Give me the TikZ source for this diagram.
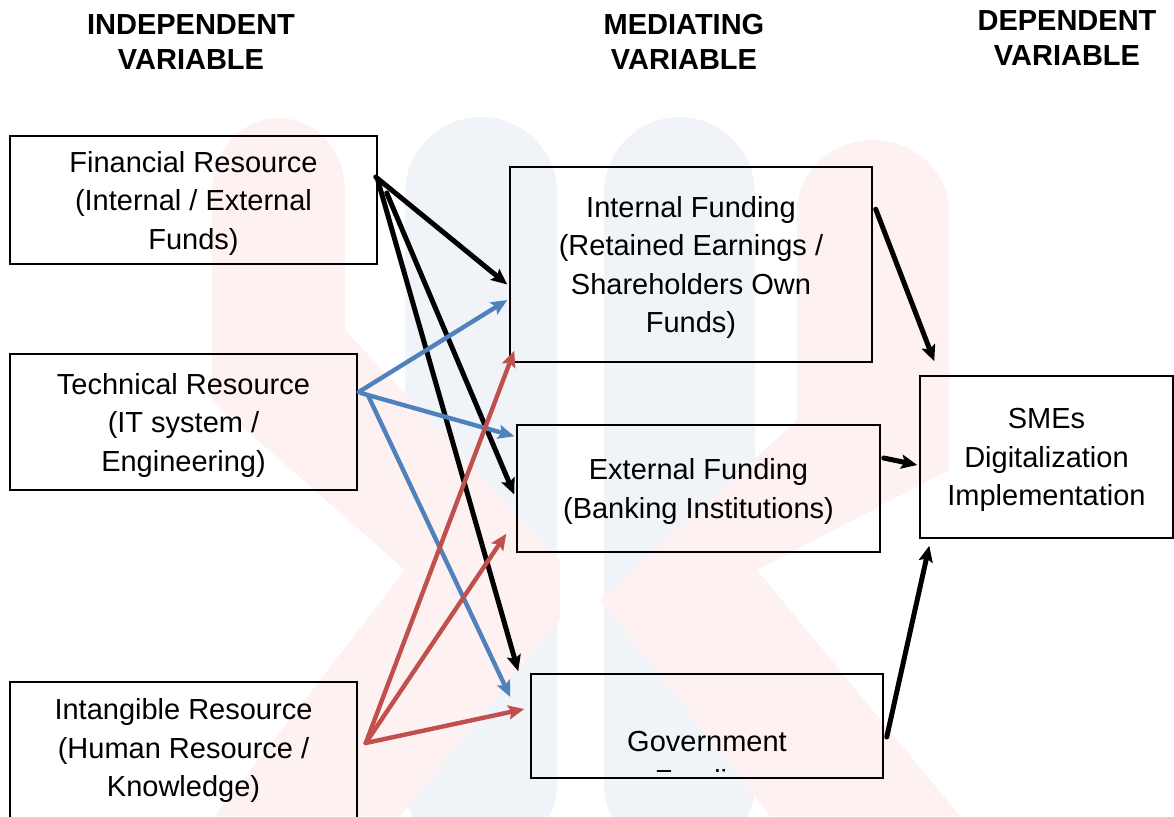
\documentclass[tikz,border=0pt]{standalone}
\usepackage{fontspec}
\setmainfont{Liberation Sans}
\usetikzlibrary{arrows.meta}

\definecolor{linkblue}{HTML}{4F81BD}
\definecolor{linkred}{HTML}{C0504D}
\definecolor{washpink}{HTML}{FDF1F1}
\definecolor{washblue}{HTML}{F0F4F8}

\tikzset{
  varbox/.style={draw, line width=0.75pt, inner sep=0pt, align=center, text depth=0pt,
    font=\fontsize{14.5}{19.25}\selectfont},
  heading/.style={align=center, font=\bfseries\fontsize{14.5}{17.5}\selectfont},
  link/.style={line width=2.2pt, line cap=round,
    -{Stealth[length=8pt,width=7pt,inset=1.5pt]}},
}

\begin{document}
\begin{tikzpicture}[x=0.5pt, y=-0.5pt]
        \useasboundingbox (0,0) rectangle (1174,816);
        % Faint backdrop: two blue bars, two pink bent bands
        \fill[washblue, rounded corners=38pt] (405,117) rectangle (557,860);
        \fill[washblue, rounded corners=38pt] (604,117) rectangle (755,860);
        \fill[washpink] (212,190) arc[start angle=180, end angle=360, x radius=66.5, y radius=72]
          -- (345,330) -- (560,560) -- (560,620) -- (400,816) -- (215,816) -- (405,570)
          -- (212,400) -- cycle;
        \fill[washpink] (797,212) arc[start angle=180, end angle=360, x radius=76, y radius=72]
          -- (949,470) -- (757,570) -- (960,816) -- (770,816) -- (600,600) -- (797,420) -- cycle;
        % Column headings
        \node[heading] (indep) at (191,42) {INDEPENDENT\\VARIABLE};
        \node[heading] (medi) at (684,42) {MEDIATING\\VARIABLE};
        \node[heading] (dep) at (1067,38) {DEPENDENT\\VARIABLE};
        % Independent variables
        \node[varbox, minimum width=183.5pt, minimum height=64pt] (fin) at (193.5,200)
          {Financial Resource\\(Internal / External\\Funds)};
        \node[varbox, minimum width=173.5pt, minimum height=68pt] (tech) at (183.5,422)
          {Technical Resource\\(IT system /\\Engineering)};
        \node[varbox, minimum width=173.5pt, minimum height=74pt, text depth=8.5pt] (intang) at (183.5,756)
          {Intangible Resource\\(Human Resource /\\Knowledge)};
        % Mediating variables
        \node[varbox, minimum width=181pt, minimum height=97.5pt] (int) at (691,264.5)
          {Internal Funding\\(Retained Earnings /\\Shareholders Own\\Funds)};
        \node[varbox, minimum width=181.5pt, minimum height=63.5pt] (ext) at (698.5,488.5)
          {External Funding\\(Banking Institutions)};
        \node[varbox, minimum width=176pt, minimum height=52pt] (gov) at (707,726) {};
        \begin{scope}
          \clip ([shift={(1pt,-1pt)}]gov.north west) rectangle ([shift={(-1pt,3.5pt)}]gov.south east);
          \node[align=center, font=\fontsize{14.5}{19.25}\selectfont] (govtext)
            at ([yshift=-19pt]gov.center) {Government\\Funding};
        \end{scope}
        % Dependent variable
        \node[varbox, minimum width=126.5pt, minimum height=81pt] (sme) at (1046.5,457)
          {SMEs\\Digitalization\\Implementation};
        % Financial resource links
        \draw[link, line width=2.5pt] ([xshift=-1pt,yshift=11.5pt]fin.east) -- ([xshift=-1pt,yshift=-10pt]int.west);
        \draw[link, line width=2.5pt] ([xshift=4.5pt,yshift=3.5pt]fin.east) -- ([xshift=-1pt,yshift=-3pt]ext.west);
        \draw[link, line width=2.5pt] ([yshift=10pt]fin.east) -- ([xshift=-6pt,yshift=1pt]gov.north west);
        % Technical resource links
        \draw[link, linkblue] ([xshift=0.5pt,yshift=15pt]tech.east) -- ([xshift=-1pt,yshift=-17.75pt]int.west);
        \draw[link, linkblue] ([xshift=1.5pt,yshift=14.5pt]tech.east) -- ([xshift=-1pt,yshift=-6pt]ext.north west);
        \draw[link, linkblue] ([xshift=5.5pt,yshift=12.5pt]tech.east) -- ([xshift=-10pt,yshift=14.5pt]gov.west);
        % Intangible resource links
        \draw[link, linkred] ([xshift=4pt,yshift=6.5pt]intang.east) -- ([xshift=2.5pt,yshift=6pt]int.south west);
        \draw[link, linkred] ([xshift=4pt,yshift=6.5pt]intang.east) -- ([xshift=-5pt,yshift=9.5pt]ext.south west);
        \draw[link, linkred] ([xshift=4pt,yshift=6.5pt]intang.east) -- ([xshift=-3pt,yshift=8.5pt]gov.west);
        % Mediators into digitalization
        \draw[link, line width=2.5pt] ([xshift=1.5pt,yshift=-21.5pt]int.north east) -- ([xshift=7.5pt,yshift=7pt]sme.north west);
        \draw[link, line width=2.5pt] ([xshift=1.5pt,yshift=15.25pt]ext.east) -- ([xshift=-1pt,yshift=-4pt]sme.west);
        \draw[link, line width=2.5pt] ([xshift=1.5pt,yshift=-5.5pt]gov.east) -- ([xshift=5pt,yshift=-3.5pt]sme.south west);
      \end{tikzpicture}
\end{document}
